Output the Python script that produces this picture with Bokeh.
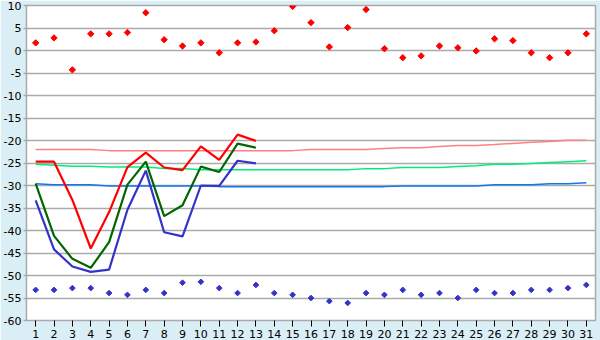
from bokeh.plotting import figure
from bokeh.models import FixedTicker
from bokeh.embed import file_html
from bokeh.resources import INLINE
import math

days = list(range(1, 32))

# record highs / lows (diamonds)
rec_max = [1.7, 2.8, -4.3, 3.7, 3.7, 4.0, 8.4, 2.4, 1.0, 1.7, -0.5, 1.7, 1.9, 4.4, 9.8,
           6.2, 0.8, 5.1, 9.1, 0.4, -1.6, -1.2, 1.0, 0.6, -0.1, 2.6, 2.2, -0.5, -1.6, -0.5, 3.7]
rec_min = [-53.2, -53.2, -52.8, -52.8, -53.9, -54.3, -53.2, -53.9, -51.6, -51.4, -52.8, -53.9, -52.1, -53.9, -54.3,
           -55.0, -55.7, -56.1, -53.9, -54.3, -53.2, -54.3, -53.9, -55.0, -53.2, -53.9, -53.9, -53.2, -53.2, -52.8, -52.1]

# normals (thin lines)
norm_max = [-22.0, -22.0, -22.0, -22.0, -22.25, -22.25, -22.25, -22.25, -22.25, -22.25, -22.25, -22.25, -22.25, -22.25, -22.25,
            -22.0, -22.0, -22.0, -22.0, -21.8, -21.6, -21.6, -21.35, -21.1, -21.1, -20.9, -20.65, -20.4, -20.2, -19.95, -19.95]
norm_mean = [-25.3, -25.5, -25.7, -25.7, -25.9, -25.9, -25.9, -26.2, -26.2, -26.5, -26.5, -26.5, -26.5, -26.5, -26.5,
             -26.5, -26.5, -26.5, -26.25, -26.25, -26.0, -26.0, -26.0, -25.8, -25.6, -25.3, -25.3, -25.1, -24.9, -24.7, -24.5]
norm_min = [-29.6, -29.85, -29.85, -29.85, -30.1, -30.1, -30.1, -30.1, -30.1, -30.1, -30.25, -30.25, -30.25, -30.25, -30.25,
            -30.25, -30.25, -30.25, -30.25, -30.25, -30.1, -30.1, -30.1, -30.1, -30.1, -29.85, -29.85, -29.85, -29.6, -29.6, -29.4]

# current month (thick lines)
cur_days = list(range(1, 14))
cur_max = [-24.7, -24.7, -33.2, -44.0, -35.9, -25.9, -22.7, -26.0, -26.6, -21.3, -24.3, -18.7, -20.1]
cur_mean = [-29.6, -41.2, -46.3, -48.3, -42.6, -29.8, -24.7, -36.8, -34.4, -25.8, -27.0, -20.7, -21.6]
cur_min = [-33.3, -44.2, -48.0, -49.2, -48.7, -35.4, -26.7, -40.4, -41.3, -30.0, -30.1, -24.5, -25.1]

y_ticks = list(range(-60, 11, 5))
y_labels = [str(v) for v in y_ticks]
x_labels = [str(d) for d in days]

p = figure(width=600, height=340, x_range=(0.5, 31.5), y_range=(-60, 10),
           output_backend="svg", toolbar_location=None,
           min_border_left=0, min_border_right=5, min_border_top=5, min_border_bottom=0)

p.background_fill_color = "white"
p.border_fill_color = "#daeef5"
p.outline_line_color = "#aaaaaa"
p.outline_line_width = 1.5

p.xgrid.visible = False
p.ygrid.grid_line_color = "#aaaaaa"
p.ygrid.grid_line_width = 1.5
p.ygrid.ticker = FixedTicker(ticks=y_ticks)

font = "DejaVu Sans"
p.xaxis.ticker = FixedTicker(ticks=days)
p.xaxis.major_label_overrides = {d: l for d, l in zip(days, x_labels)}
p.xaxis.axis_line_color = None
p.xaxis.major_tick_line_color = "black"
p.xaxis.major_tick_out = 6
p.xaxis.major_tick_in = 0
p.xaxis.minor_tick_line_color = None
p.xaxis.major_label_standoff = 3
p.xaxis.major_label_text_font = font
p.xaxis.major_label_text_font_size = "11px"
p.xaxis.major_label_text_color = "black"

p.yaxis.ticker = FixedTicker(ticks=y_ticks)
p.yaxis.major_label_overrides = {v: l for v, l in zip(y_ticks, y_labels)}
p.yaxis.axis_line_color = None
p.yaxis.major_tick_line_color = "#aaaaaa"
p.yaxis.major_tick_line_width = 1.5
p.yaxis.major_tick_out = 3
p.yaxis.major_tick_in = 0
p.yaxis.minor_tick_line_color = None
p.yaxis.major_label_standoff = 2
p.yaxis.major_label_text_font = font
p.yaxis.major_label_text_font_size = "11px"
p.yaxis.major_label_text_color = "black"

# normal lines
p.line(days, norm_max, line_color="#ff8080", line_width=1.5)
p.line(days, norm_mean, line_color="#00ee77", line_width=1.5)
p.line(days, norm_min, line_color="#1177ee", line_width=1.5)

# current month
p.line(cur_days, cur_max, line_color="#ff0000", line_width=2.2)
p.line(cur_days, cur_mean, line_color="#006600", line_width=2.2)
p.line(cur_days, cur_min, line_color="#3333cc", line_width=2.2)

# records
p.scatter(days, rec_max, marker="square", size=4.5, angle=math.pi / 4,
          fill_color="#ff0000", line_color="#ff0000", line_width=1)
p.scatter(days, rec_min, marker="square", size=4, angle=math.pi / 4,
          fill_color="#3333cc", line_color="#3333cc", line_width=1)

open("out.html", "w").write(file_html(p, INLINE))
